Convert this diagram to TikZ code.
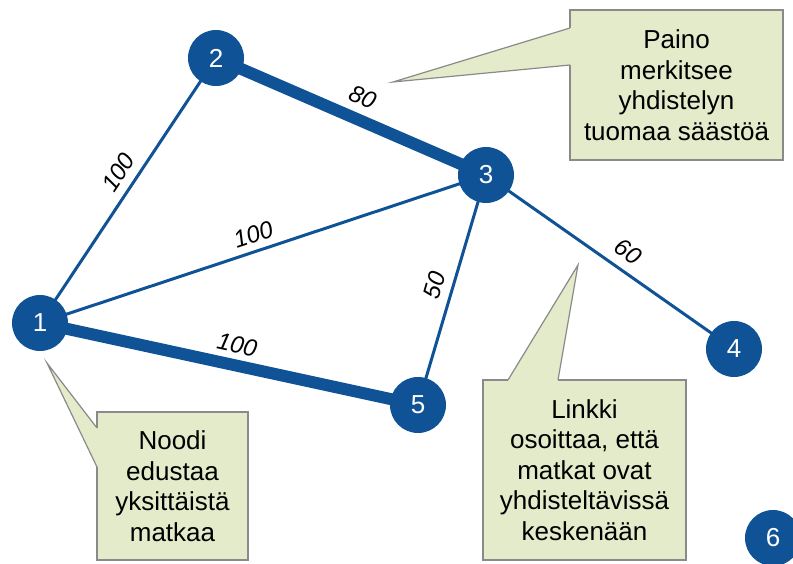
\documentclass[tikz,border=0pt]{standalone}
\usepackage{fontspec}
\setmainfont{Liberation Sans}
\usetikzlibrary{backgrounds}

\definecolor{netblue}{HTML}{0F5396}
\definecolor{notefill}{HTML}{E3EBCA}
\definecolor{noteline}{HTML}{8A8A8A}

\tikzset{
  vertex/.style={circle, fill=netblue, text=white, minimum size=56pt, inner sep=0pt,
    font=\fontsize{26}{26}\selectfont},
  link/.style={draw=netblue, line width=3pt},
  heavy/.style={draw=netblue, line width=12pt},
  weight/.style={sloped, above, inner sep=6pt, font=\fontsize{24}{24}\selectfont\itshape},
  notebox/.style={draw=noteline, fill=notefill, line width=1.2pt, align=center,
    inner sep=0pt, font=\fontsize{26}{30.5}\selectfont},
  notetail/.style={fill=notefill},
  notetailline/.style={draw=noteline, line width=1.2pt, line join=miter},
}

\begin{document}
\begin{tikzpicture}[x=1pt, y=1pt]
  \useasboundingbox (0,0) rectangle (793,563);

  % graph vertices
  \node[vertex] (n1) at (40,240)  {1};
  \node[vertex] (n2) at (216,505) {2};
  \node[vertex] (n3) at (486,388) {3};
  \node[vertex] (n4) at (734,214) {4};
  \node[vertex] (n5) at (418,158) {5};
  \node[vertex] (n6) at (773,25)  {6};

  % weighted links
  \begin{pgfonlayer}{background}
    \draw[link]  (n1.center) -- node[weight, pos=0.53, inner sep=8pt] {100} (n2.center);
    \draw[heavy] (n2.center) -- node[weight, pos=0.51, inner sep=8pt] {80} (n3.center);
    \draw[link]  (n1.center) -- node[weight, pos=0.49, inner sep=7pt] {100} (n3.center);
    \draw[heavy] (n1.center) -- node[weight, pos=0.51, inner sep=6pt] {100} (n5.center);
    \draw[link]  (n3.center) -- node[weight, pos=0.50, inner sep=8pt] {50} (n5.center);
    \draw[link]  (n3.center) -- node[weight, pos=0.53, inner sep=9pt] {60} (n4.center);
  \end{pgfonlayer}

  % note: edge weight
  \node[notebox, minimum width=213pt, minimum height=150pt] (noteA) at (676.5,478)
    {Paino\\merkitsee\\yhdistelyn\\tuomaa säästöä};
  \coordinate (tipA) at (393,481);
  \coordinate (a1) at (570,535);
  \coordinate (a2) at (570,498);
  \fill[notetail] (a1) -- (tipA) -- (a2) -- ([xshift=3pt]a2) -- ([xshift=3pt]a1) -- cycle;
  \draw[notetailline] (a1) -- (tipA) -- (a2);

  % note: vertex
  \node[notebox, minimum width=151pt, minimum height=148pt] (noteB) at (172.5,77)
    {Noodi\\edustaa\\yksittäistä\\matkaa};
  \coordinate (tipB) at (47,200);
  \coordinate (b1) at (97,135);
  \coordinate (b2) at (97,96);
  \fill[notetail] (b1) -- (tipB) -- (b2) -- ([xshift=3pt]b2) -- ([xshift=3pt]b1) -- cycle;
  \draw[notetailline] (b1) -- (tipB) -- (b2);

  % note: link
  \node[notebox, minimum width=203pt, minimum height=180pt] (noteC) at (584.5,93)
    {Linkki\\osoittaa, että\\matkat ovat\\yhdisteltävissä\\keskenään};
  \coordinate (tipC) at (578,298);
  \coordinate (c1) at (508,183);
  \coordinate (c2) at (558,183);
  \fill[notetail] (c1) -- (tipC) -- (c2) -- ([yshift=-3pt]c2) -- ([yshift=-3pt]c1) -- cycle;
  \draw[notetailline] (c1) -- (tipC) -- (c2);
\end{tikzpicture}
\end{document}
